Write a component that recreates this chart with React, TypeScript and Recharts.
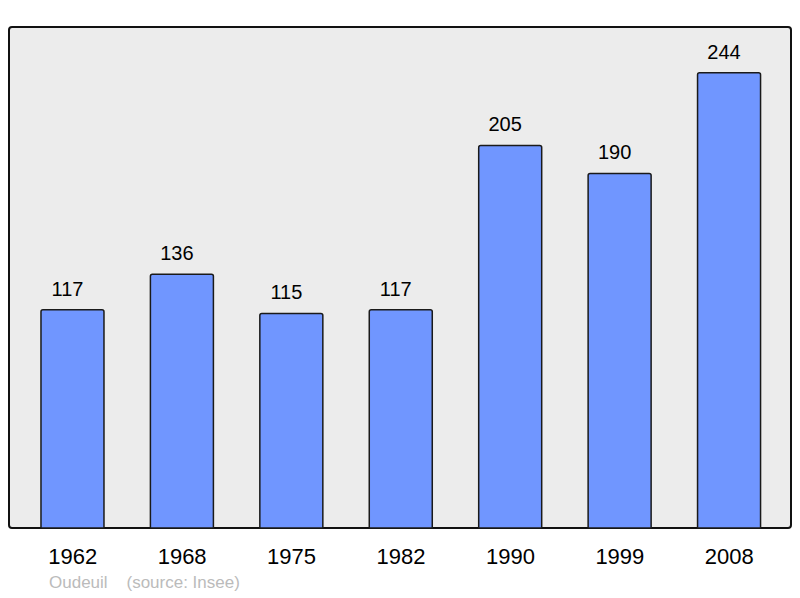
import React from 'react';
import { BarChart, Bar, XAxis, YAxis, LabelList } from 'recharts';

const years = ['1962', '1968', '1975', '1982', '1990', '1999', '2008'];
const population = [117, 136, 115, 117, 205, 190, 244];
const placeName = 'Oudeuil';
const sourceNote = '(source: Insee)';

const chartData = years.map((year, i) => ({ year, population: population[i] }));

const FONT = '"Liberation Sans", Arial, sans-serif';

export default function App() {
  return (
    <div style={{ position: 'absolute', left: 0, top: 0, width: 800, height: 598, background: '#fff', fontFamily: FONT }}>
      {/* plot frame behind the svg */}
      <div
        style={{
          position: 'absolute',
          left: 8,
          top: 26,
          width: 784,
          height: 503,
          boxSizing: 'border-box',
          border: '2px solid #111',
          borderRadius: 4,
          background: '#ececec',
        }}
      />
      <div style={{ position: 'absolute', left: 0, top: 0 }}>
        <BarChart
          width={800}
          height={598}
          data={chartData}
          margin={{ top: 27, right: 9, left: 9, bottom: 40 }}
          barCategoryGap="21%"
        >
          <XAxis
            dataKey="year"
            height={30}
            axisLine={false}
            tickLine={false}
            tickMargin={14}
            padding={{ left: 9, right: 7 }}
            tick={{ fill: '#000', fontSize: 22, fontFamily: FONT }}
          />
          <YAxis hide domain={[0, 268.5]} />
          <Bar
            dataKey="population"
            fill="#7096ff"
            stroke="#1a1a1a"
            strokeWidth={1.5}
            radius={[2, 2, 0, 0]}
            isAnimationActive={false}
          >
            <LabelList
              dataKey="population"
              position="top"
              offset={14}
              dx={-5}
              fill="#000"
              fontSize={20}
              fontFamily={FONT}
            />
          </Bar>
        </BarChart>
      </div>
      <div style={{ position: 'absolute', left: 49, top: 573, fontSize: 17, color: '#bbbbbb', whiteSpace: 'pre' }}>
        {placeName + '    ' + sourceNote}
      </div>
    </div>
  );
}
